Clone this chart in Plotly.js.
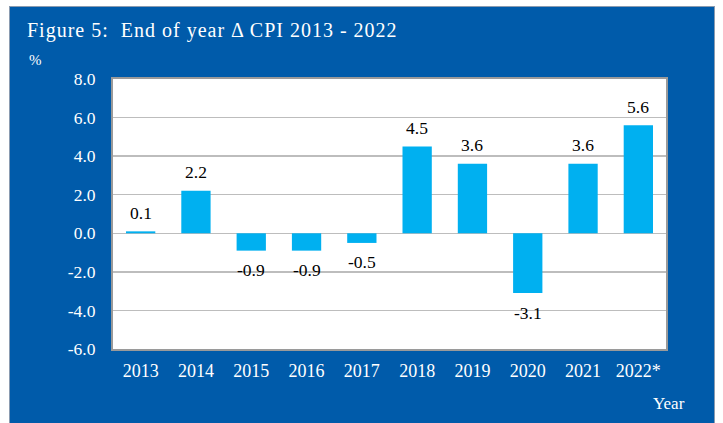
<!DOCTYPE html>
<html>
<head>
<meta charset="utf-8">
<script src="https://cdn.plot.ly/plotly-3.0.1.min.js"></script>
<style>
html,body{margin:0;padding:0;background:#fff;}
#bg{position:absolute;left:9px;top:6px;width:706px;height:420px;background:#005BAA;border:1px solid #8a9bb0;box-sizing:border-box;}
#chart{position:absolute;left:0;top:0;width:723px;height:423px;}
#chart .gtitle{letter-spacing:1px;}
</style>
</head>
<body>
<div id="bg"></div>
<div id="chart"></div>
<script>
const years = ["2013","2014","2015","2016","2017","2018","2019","2020","2021","2022*"];
const cpi = [0.1, 2.2, -0.9, -0.9, -0.5, 4.5, 3.6, -3.1, 3.6, 5.6];
const yTicks = [-6, -4, -2, 0, 2, 4, 6, 8];
const yTickText = yTicks.map(v => v.toFixed(1));

const serif = "Liberation Serif, Times New Roman, serif";

// value labels: x is the category index on the category axis
const valueLabels = cpi.map((v, i) => ({
  text: v.toFixed(1),
  x: i, y: v, xref: "x", yref: "y",
  xanchor: "center", yanchor: "middle",
  yshift: v >= 0 ? 18.5 : -19.5,
  showarrow: false,
  font: {family: serif, size: 17.5, color: "#000"}
}));

Plotly.newPlot("chart", [{
  type: "bar",
  x: years,
  y: cpi,
  marker: {color: "#00B0F0"},
  hoverinfo: "none"
}], {
  width: 723, height: 423,
  margin: {l: 113, r: 57, t: 79, b: 74},
  paper_bgcolor: "rgba(0,0,0,0)",
  plot_bgcolor: "#fff",
  bargap: 0.47,
  showlegend: false,
  font: {family: serif, color: "#fff", size: 17},
  title: {
    text: "Figure 5:  End of year \u0394 CPI 2013 - 2022",
    font: {family: serif, size: 20, color: "#fff"},
    xref: "container", yref: "container",
    x: 27/723, xanchor: "left",
    y: 1 - 30/423, yanchor: "middle"
  },
  xaxis: {
    type: "category",
    categoryorder: "array", categoryarray: years,
    range: [-0.5, years.length - 0.5],
    showgrid: false,
    zeroline: false,
    showline: true, mirror: true, linecolor: "#9a9a9a", linewidth: 2,
    ticks: "", ticklabelstandoff: 4,
    tickfont: {family: serif, size: 18, color: "#fff"},
    fixedrange: true
  },
  yaxis: {
    range: [-6, 8],
    tickvals: yTicks,
    ticktext: yTickText,
    showgrid: true, gridcolor: "#bdbdbd", gridwidth: 1.5,
    zeroline: true, zerolinecolor: "#bdbdbd", zerolinewidth: 1.5,
    showline: true, mirror: true, linecolor: "#9a9a9a", linewidth: 2,
    ticks: "", ticklabelstandoff: 12,
    tickfont: {family: serif, size: 17.5, color: "#fff"},
    fixedrange: true
  },
  annotations: valueLabels.concat([
    {text: "%", xref: "paper", yref: "paper", x: (27-113)/553, y: (349-60)/270,
     xanchor: "left", yanchor: "middle", showarrow: false,
     font: {family: serif, size: 15, color: "#fff"}},
    {text: "Year", xref: "paper", yref: "paper", x: (687-113)/553, y: (349-403)/270,
     xanchor: "right", yanchor: "middle", showarrow: false,
     font: {family: serif, size: 17, color: "#fff"}}
  ])
}, {staticPlot: true});
</script>
</body>
</html>
